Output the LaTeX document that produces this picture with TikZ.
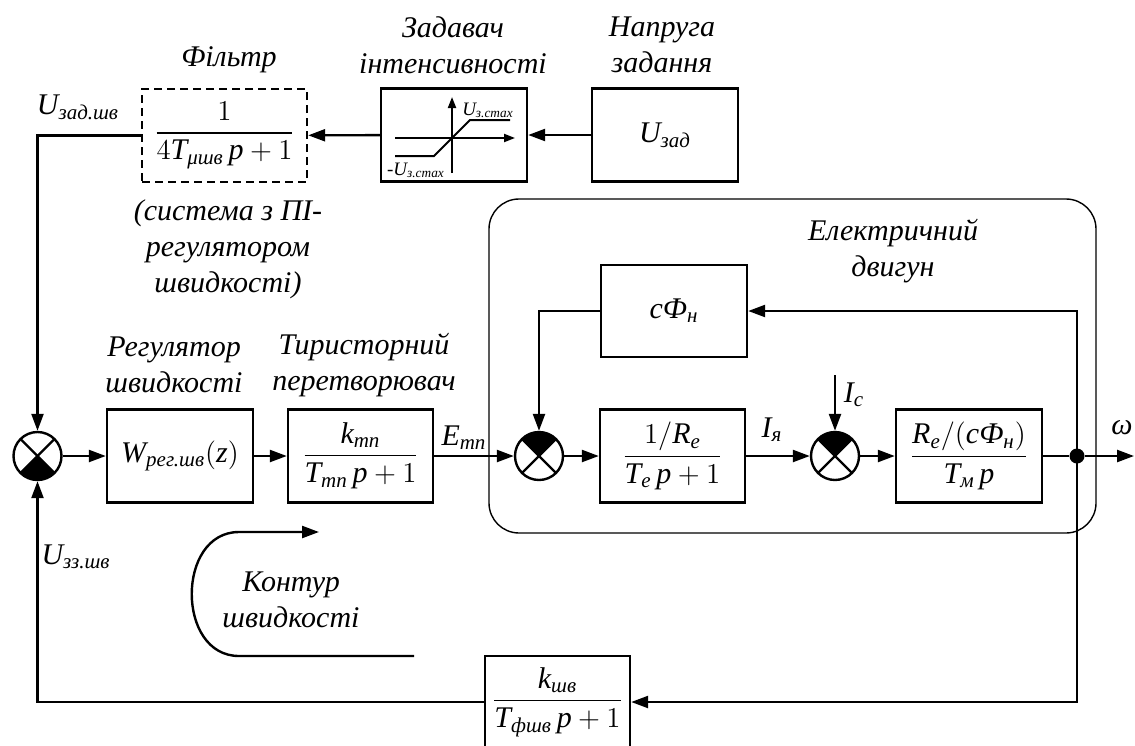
\documentclass[tikz,border=0pt]{standalone}
\usepackage{amsmath}
\usepackage{fontspec}
\setmainfont{Liberation Serif}
\usetikzlibrary{arrows.meta}
\newcommand{\tv}[1]{\textit{#1}}
\tikzset{
  blok/.style={draw, line width=1.2pt, minimum width=73pt, minimum height=46.5pt, inner sep=1pt},
  suma/.style={draw, circle, line width=1.2pt, minimum size=24pt, inner sep=0pt},
  lbl/.style={font=\fontsize{15}{18}\selectfont\itshape, align=center},
  small/.style={font=\fontsize{9.5}{11}\selectfont},
  ln/.style={line width=1.2pt},
  arr/.style={line width=1.2pt, -{Triangle[length=8.5pt,width=6pt]}},
  tinyarr/.style={line width=1pt, -{Triangle[length=5.5pt,width=4pt]}}
}
\begin{document}
\begin{tikzpicture}[x=0.5pt,y=-0.5pt,font=\fontsize{15}{18}\selectfont]
\useasboundingbox (0,0) rectangle (1135,745);
\clip (0,0) rectangle (1135,745);
\draw[line width=0.7pt, rounded corners=15pt] (489,199) rectangle (1096,533);
\node[blok, dashed, dash pattern=on 4pt off 2.5pt, minimum width=82.5pt] (filtr) at (224.5,135.5) {$\dfrac{1}{4\tv{T}_{\tv{μшв}}\,\tv{p}+1}$};
\node[blok] (zadav) at (454,135) {};
\node[blok] (uzad) at (665,135) {$\tv{U}_{\tv{зад}}$};
\node[suma] (s1) at (37.5,456) {};
\node[blok] (wreg) at (180,456) {$\tv{W}_{\tv{рег.шв}}(\tv{z})$};
\node[blok, minimum width=72.5pt] (tp) at (360.5,456) {$\dfrac{\tv{k}_{\tv{тп}}}{\tv{T}_{\tv{тп}}\,\tv{p}+1}$};
\node[suma] (s2) at (539,456) {};
\node[blok, minimum width=72.5pt] (re) at (672.5,456) {$\dfrac{1/\tv{R}_{\tv{e}}}{\tv{T}_{\tv{e}}\,\tv{p}+1}$};
\node[suma] (s3) at (835,456) {};
\node[blok] (rm) at (969,456) {$\dfrac{\tv{R}_{\tv{e}}/(\tv{cФ}_{\tv{н}})}{\tv{T}_{\tv{м}}\,\tv{p}}$};
\node[blok, minimum height=46pt] (cf) at (674,311) {$\tv{cФ}_{\tv{н}}$};
\node[blok, minimum width=72.5pt, minimum height=46pt] (fb) at (557.5,702) {$\dfrac{\tv{k}_{\tv{шв}}}{\tv{T}_{\tv{фшв}}\,\tv{p}+1}$};
\node[circle, fill, inner sep=0pt, minimum size=7.5pt] (dot) at (1077,456) {};
\coordinate (wout) at (1134,456);
\coordinate (icin) at (835,375);
\coordinate (k1) at (414,656);
\coordinate (k2) at (319,532);
\foreach \s/\a in {s1/225, s2/45, s3/45}{
  \fill (\s.center) -- ++(\a:12pt) arc[start angle=\a, end angle=\a+90, radius=12pt] -- cycle;
  \draw[ln] (\s.center) ++(45:12pt) -- ++(225:24pt);
  \draw[ln] (\s.center) ++(135:12pt) -- ++(315:24pt);
}
\node[lbl] (tfiltr) at (229,60) {Фільтр};
\node[lbl] (tzadav) at (453,45) {Задавач\\інтенсивності};
\node[lbl] (tuzad) at (662,45) {Напруга\\задання};
\node[lbl] (tsys) at (228,249) {(система з ПІ-\\регулятором\\швидкості)};
\node[lbl] (twreg) at (174,365) {Регулятор\\швидкості};
\node[lbl] (ttp) at (364,365) {Тиристорний\\перетворювач};
\node[lbl] (tdv) at (893,251) {Електричний\\двигун};
\node[lbl] (tkont) at (291,600) {Контур\\швидкості};
\node (uzadsh) at (78,107) {$\tv{U}_{\tv{зад.шв}}$};
\node (etp) at (464,438) {$\tv{E}_{\tv{тп}}$};
\node (iya) at (772,430) {$\tv{I}_{\tv{я}}$};
\node (ic) at (854,395) {$\tv{I}_{\tv{c}}$};
\node (om) at (1122,428) {\tv{ω}};
\node (uzz) at (76,557) {$\tv{U}_{\tv{зз.шв}}$};
\draw[tinyarr] (452,173) -- (452,97);
\draw[tinyarr] (395,138) -- (515,138);
\draw[line width=1pt] (395,156) -- (434,156) -- (470,120) -- (510,120);
\node[small] (umax) at (488,110) {$\tv{U}_{\tv{з.стах}}$};
\node[small] (umin) at (416,170) {-$\tv{U}_{\tv{з.стах}}$};
\draw[arr] (uzad) -- (zadav);
\draw[arr] (zadav) -- (filtr);
\draw[arr] (filtr.west) -| (s1.north);
\draw[arr] (s1) -- (wreg);
\draw[arr] (wreg) -- (tp);
\draw[arr] (tp) -- (s2);
\draw[arr] (s2) -- (re);
\draw[arr] (re) -- (s3);
\draw[arr] (s3) -- (rm);
\draw[ln] (rm) -- (dot);
\draw[arr] (dot) -- (wout);
\draw[arr] (dot.center) |- (cf.east);
\draw[arr] (cf.west) -| (s2.north);
\draw[arr] (icin) -- (s3.north);
\draw[arr] (dot.center) |- (fb.east);
\draw[arr] (fb.west) -| (s1.south);
\draw[arr] (k1) -- (239,656) .. controls (176,656) and (176,532) .. (239,532) -- (k2);
\end{tikzpicture}
\end{document}
